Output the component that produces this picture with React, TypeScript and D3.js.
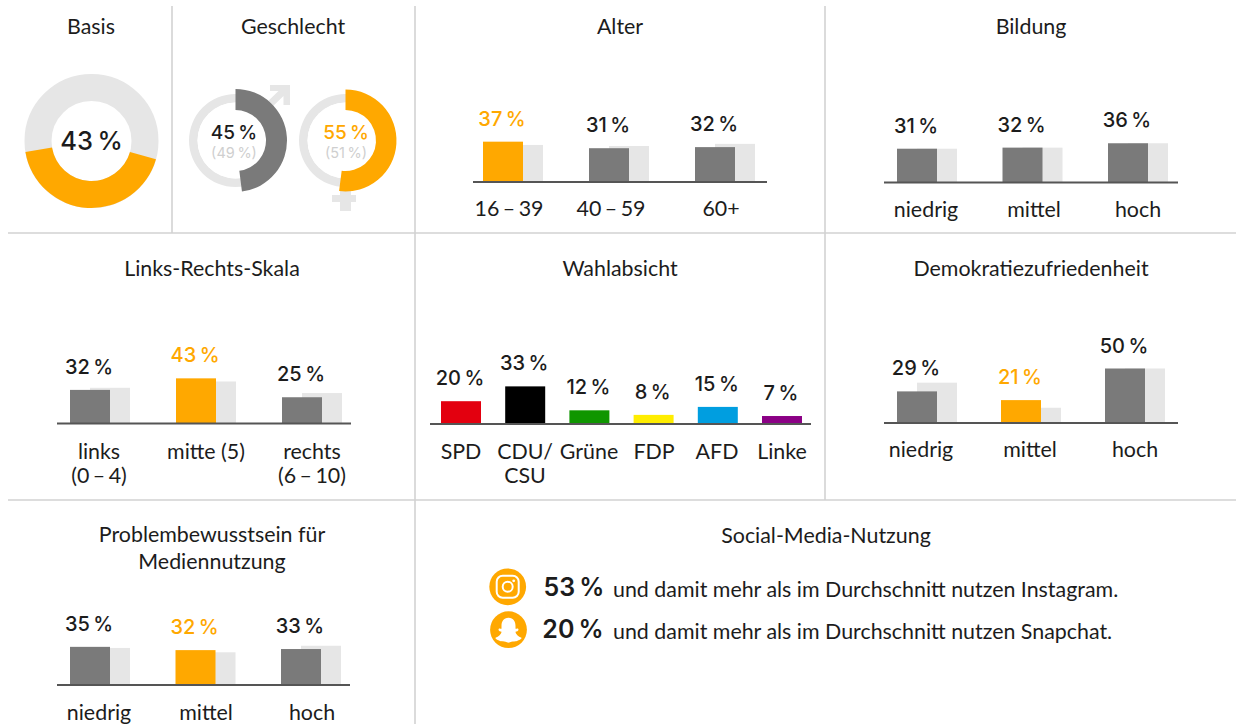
import React from "react";
import * as d3 from "d3";

const ORANGE = "#ffa800";
const DARK = "#7a7a7a";
const LIGHT = "#e6e6e6";
const INK = "#1c1c1c";
const RULE = "#d2d2d2";
const BODY = "Lato, 'Open Sans', sans-serif";
const NUM = "Inter, Roboto, sans-serif";
const THIN = "\u2009";
const BODY_SIZE = 21.4;

// values
const basisShare = 43;
const genderLabels = [45, 55];
const genderRefs = [49, 51];
// the drawn arcs in the picture are closer to 48/52 than to their labels
const genderArcs = [48, 52];

const alterCats = ["16 – 39", "40 – 59", "60+"];
const alterVals = [37, 31, 32];
const alterRefs = [34, 33, 35];

const bildungCats = ["niedrig", "mittel", "hoch"];
const bildungVals = [31, 32, 36];
const bildungRefs = [31, 32, 36];

const skalaCats = [["links", "(0 – 4)"], ["mitte (5)"], ["rechts", "(6 – 10)"]];
const skalaVals = [32, 43, 25];
const skalaRefs = [34, 40, 29];

const parteiCats = [["SPD"], ["CDU/", "CSU"], ["Grüne"], ["FDP"], ["AFD"], ["Linke"]];
const parteiVals = [20, 33, 12, 8, 15, 7];
const parteiColors = ["#e3000f", "#000000", "#0f9600", "#ffed00", "#009ee0", "#8b0085"];

const demokratieCats = ["niedrig", "mittel", "hoch"];
const demokratieVals = [29, 21, 50];
const demokratieRefs = [37, 14, 50];

const problemCats = ["niedrig", "mittel", "hoch"];
const problemVals = [35, 32, 33];
const problemRefs = [34, 30, 36];

const socialVals = [53, 20];
const socialTexts = [
  "und damit mehr als im Durchschnitt nutzen Instagram.",
  "und damit mehr als im Durchschnitt nutzen Snapchat.",
];

const Title = ({ x, y, lines }: { x: number; y: number; lines: string[] }) => (
  <g>
    {lines.map((l, i) => (
      <text key={l} x={x} y={y + i * 27} textAnchor="middle" fontFamily={BODY} fontSize={BODY_SIZE} fill={INK}>
        {l}
      </text>
    ))}
  </g>
);

type PanelProps = {
  cats: (string | string[])[];
  vals: number[];
  refs?: number[];
  colors?: string[];
  highlight?: number;
  baseY: number;
  pxPerPct: number;
  axis: [number, number];
  first: number;
  last: number;
  tickX: number[];
  tickY: number;
};

const BarPanel = ({ cats, vals, refs, colors, highlight, baseY, pxPerPct, axis, first, last, tickX, tickY }: PanelProps) => {
  const names = cats.map((c) => (Array.isArray(c) ? c.join(" ") : c));
  const barW = 40;
  const xScale = d3.scalePoint<string>().domain(names).range([first, last]);
  const yScale = d3.scaleLinear().domain([0, 100]).range([baseY, baseY - 100 * pxPerPct]);
  return (
    <g>
      {refs &&
        refs.map((r, i) => (
          <rect key={i} x={xScale(names[i])! + 20} y={yScale(r)} width={barW} height={baseY - yScale(r)} fill={LIGHT} />
        ))}
      {vals.map((v, i) => {
        const fill = colors ? colors[i] : i === highlight ? ORANGE : DARK;
        return <rect key={i} x={xScale(names[i])} y={yScale(v)} width={barW} height={baseY - yScale(v)} fill={fill} />;
      })}
      <line x1={axis[0]} x2={axis[1]} y1={baseY} y2={baseY} stroke="#555" strokeWidth={2} />
      {vals.map((v, i) => (
        <text
          key={i}
          x={xScale(names[i])! + barW / 2 - 1}
          y={yScale(v) - 16}
          textAnchor="middle"
          fontFamily={NUM}
          fontWeight={500}
          fontSize={20}
          fill={i === highlight ? ORANGE : INK}
        >
          {v + THIN + "%"}
        </text>
      ))}
      {cats.map((c, i) =>
        (Array.isArray(c) ? c : [c]).map((l, j) => (
          <text
            key={l}
            x={tickX[i]}
            y={tickY + j * 24}
            textAnchor="middle"
            fontFamily={BODY}
            fontSize={BODY_SIZE}
            wordSpacing={l.includes("–") ? -2 : 0}
            fill={INK}
          >
            {l}
          </text>
        ))
      )}
    </g>
  );
};

const ring = d3.arc();

const App = () => {
  const tau = 2 * Math.PI;
  const basisStart = (105.8 / 360) * tau;
  const basisArc = ring({
    innerRadius: 40,
    outerRadius: 67,
    startAngle: basisStart,
    endAngle: basisStart + (basisShare / 100) * tau,
  })!;
  const thinRing = ring({ innerRadius: 38, outerRadius: 46.5, startAngle: 0, endAngle: tau })!;
  const maleArc = ring({ innerRadius: 30.5, outerRadius: 51.5, startAngle: 0, endAngle: (genderArcs[0] / 100) * tau })!;
  const femaleArc = ring({ innerRadius: 30.5, outerRadius: 51, startAngle: 0, endAngle: (genderArcs[1] / 100) * tau })!;

  return (
    <svg width={1242} height={724} style={{ position: "absolute", left: 0, top: 0, background: "#fff" }}>
      {/* panel grid */}
      <g stroke={RULE} strokeWidth={1.6}>
        <line x1={8} x2={1236} y1={233} y2={233} />
        <line x1={8} x2={1236} y1={500} y2={500} />
        <line x1={172} x2={172} y1={6} y2={233} />
        <line x1={415} x2={415} y1={6} y2={724} />
        <line x1={825} x2={825} y1={6} y2={500} />
      </g>

      <Title x={91} y={34} lines={["Basis"]} />
      <Title x={293} y={34} lines={["Geschlecht"]} />
      <Title x={620} y={34} lines={["Alter"]} />
      <Title x={1031} y={34} lines={["Bildung"]} />
      <Title x={212} y={276} lines={["Links-Rechts-Skala"]} />
      <Title x={620} y={276} lines={["Wahlabsicht"]} />
      <Title x={1031} y={276} lines={["Demokratiezufriedenheit"]} />
      <Title x={212} y={542} lines={["Problembewusstsein für", "Mediennutzung"]} />
      <Title x={826} y={543} lines={["Social-Media-Nutzung"]} />

      {/* Basis donut */}
      <g transform="translate(91.5,141)">
        <circle r={53.5} fill="none" stroke={LIGHT} strokeWidth={27} />
        <path d={basisArc} fill={ORANGE} />
        <text y={9} textAnchor="middle" fontFamily={NUM} fontWeight={500} fontSize={25.5} fill={INK}>
          {basisShare + THIN + "%"}
        </text>
      </g>

      {/* Geschlecht: symbols sit behind the rings */}
      <path d="M270,85 L290,85 L290,105 L283.5,105 L283.5,96 L270,109 L265,104 L278.5,91 L270,91 Z" fill={LIGHT} />
      <path d="M340,190 L351,190 L351,195 L356,195 L356,202 L351,202 L351,211 L340,211 L340,202 L332,202 L332,195 L340,195 Z" fill={LIGHT} />
      <g transform="translate(235.5,140.5)">
        <path d={thinRing} fill={LIGHT} />
        <circle r={38} fill="#fff" />
        <path d={maleArc} fill={DARK} />
      </g>
      <g transform="translate(345.5,140.5)">
        <path d={thinRing} fill={LIGHT} />
        <circle r={38} fill="#fff" />
        <path d={femaleArc} fill={ORANGE} />
      </g>
      {[234, 346].map((cx, i) => (
        <g key={cx}>
          <text x={cx} y={139} textAnchor="middle" fontFamily={NUM} fontWeight={500} fontSize={19} fill={i ? ORANGE : INK}>
            {genderLabels[i] + THIN + "%"}
          </text>
          <text x={cx} y={158} textAnchor="middle" fontFamily={NUM} fontSize={14.5} fill="#cfcfcf">
            {"(" + genderRefs[i] + THIN + "%)"}
          </text>
        </g>
      ))}

      <BarPanel cats={alterCats} vals={alterVals} refs={alterRefs} highlight={0} baseY={182} pxPerPct={1.09}
        axis={[473, 767]} first={483} last={695} tickX={[509, 611, 721]} tickY={216} />
      <BarPanel cats={bildungCats} vals={bildungVals} refs={bildungRefs} baseY={182.5} pxPerPct={1.09}
        axis={[884, 1178]} first={897} last={1108} tickX={[926, 1034, 1138]} tickY={217} />
      <BarPanel cats={skalaCats} vals={skalaVals} refs={skalaRefs} highlight={1} baseY={423.5} pxPerPct={1.05}
        axis={[57, 351]} first={70} last={282} tickX={[99, 206, 312]} tickY={459} />
      <BarPanel cats={parteiCats} vals={parteiVals} colors={parteiColors} baseY={424} pxPerPct={1.14}
        axis={[430, 811]} first={441} last={762} tickX={[461, 525, 589, 654, 717, 782]} tickY={459} />
      <BarPanel cats={demokratieCats} vals={demokratieVals} refs={demokratieRefs} highlight={1} baseY={423} pxPerPct={1.09}
        axis={[884, 1178]} first={897} last={1105} tickX={[921, 1030, 1135]} tickY={457} />
      <BarPanel cats={problemCats} vals={problemVals} refs={problemRefs} highlight={1} baseY={685} pxPerPct={1.09}
        axis={[57, 350]} first={70} last={281} tickX={[99, 206, 312]} tickY={720} />

      {/* Instagram */}
      <g transform="translate(507.7,586.8)">
        <circle r={18.4} fill={ORANGE} />
        <rect x={-11} y={-11} width={22} height={22} rx={6} fill="none" stroke="#fff" strokeWidth={2} />
        <circle r={5} fill="none" stroke="#fff" strokeWidth={2} />
        <circle cx={6} cy={-6} r={1.4} fill="#fff" />
      </g>
      {/* Snapchat */}
      <g transform="translate(508.5,629.7)">
        <circle r={18.4} fill={ORANGE} />
        <path
          d="M0,-12 C-5,-12 -7,-8 -7,-4 L-7,-1 C-8,-1 -10,-2 -10,0 C-10,1 -8,2 -7,2 C-7,4 -10,7 -13,8 C-13,10 -10,10 -9,11 C-8,12 -4,11 0,13 C4,11 8,12 9,11 C10,10 13,10 13,8 C10,7 7,4 7,2 C8,2 10,1 10,0 C10,-2 8,-1 7,-1 L7,-4 C7,-8 5,-12 0,-12 Z"
          fill="#fff"
        />
      </g>
      {socialVals.map((v, i) => (
        <g key={v}>
          <text x={574 - i} y={596 + i * 42} textAnchor="middle" fontFamily={NUM} fontWeight={600} fontSize={25} fill={INK}>
            {v + THIN + "%"}
          </text>
          <text x={613} y={597 + i * 42} fontFamily={BODY} fontSize={BODY_SIZE} fill={INK}>
            {socialTexts[i]}
          </text>
        </g>
      ))}
    </svg>
  );
};

export default App;
